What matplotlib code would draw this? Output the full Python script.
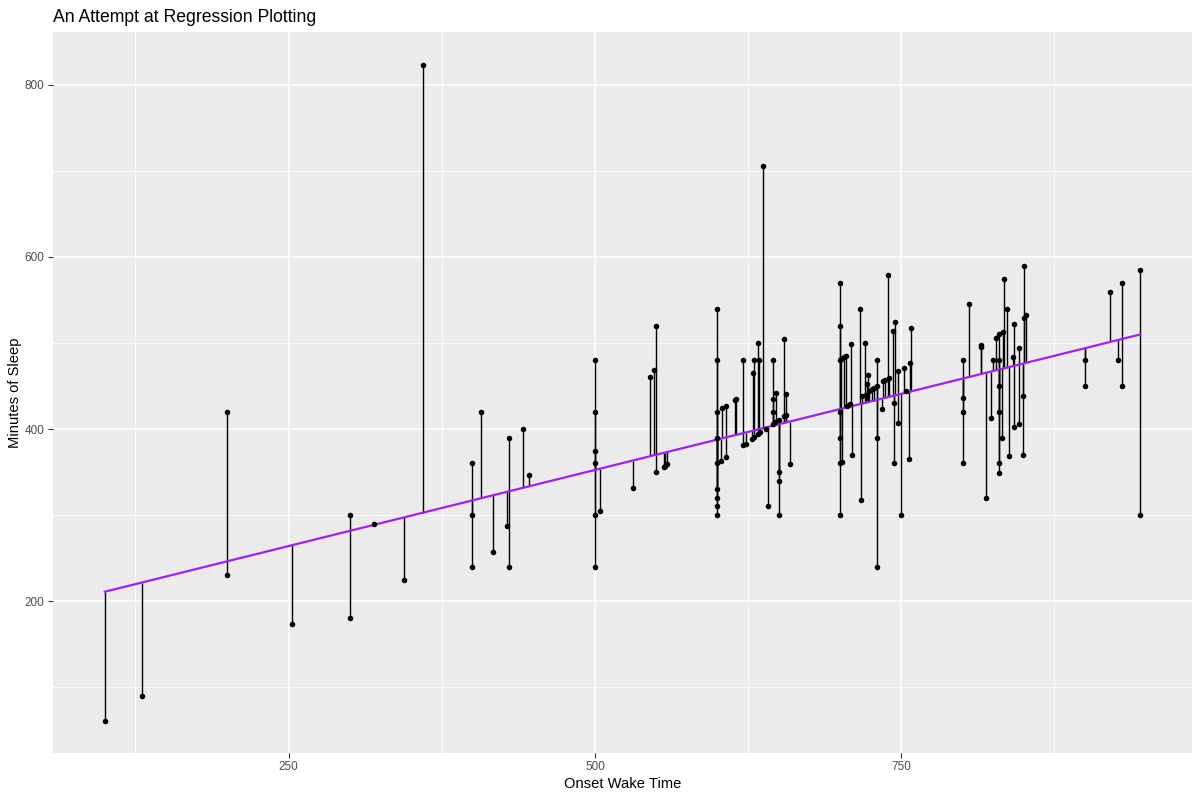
import numpy as np
import matplotlib
matplotlib.use("Agg")
import matplotlib.pyplot as plt

plt.rcParams['font.family'] = ['Liberation Sans', 'DejaVu Sans']

# onset wake time vs minutes of sleep
wake_time = [100, 130, 200, 200, 253, 300, 300, 320, 344, 360,
             400, 400, 400, 407, 417, 428, 430, 430, 441, 446,
             500, 500, 500, 500, 500, 500, 504, 531, 545, 548,
             550, 550, 556, 557, 559,
             600, 600, 600, 600, 600, 600, 600, 600, 600, 603,
             604, 607, 607, 614, 615, 621, 621, 623, 628, 629,
             630, 630, 633, 633, 634, 635, 637, 640, 641, 645,
             645, 645, 645, 647, 648, 650, 650, 650, 650, 654,
             654, 656, 656, 659,
             700, 700, 700, 700, 700, 700, 700, 701, 702, 703,
             705, 706, 708, 709, 710, 716, 717, 718, 720, 721,
             722, 723, 724, 726, 728, 730, 730, 730, 730, 734,
             735, 737, 739, 740, 743, 744, 744, 745, 747, 747,
             750, 752, 754, 756, 757, 758,
             800, 800, 800, 800, 805, 815, 815, 819, 823, 825,
             827, 830, 830, 830, 830, 830, 830, 832, 833, 834,
             836, 838, 841, 842, 842, 846, 846, 849, 849, 850,
             850, 852, 900, 900, 920, 927, 930, 930, 945, 945]
sleep_min = [61, 90, 420, 230, 173, 300, 180, 290, 225, 823,
             360, 300, 240, 420, 257, 287, 390, 240, 400, 347,
             480, 420, 375, 360, 300, 240, 305, 331, 460, 469,
             520, 350, 356, 357, 359,
             540, 480, 420, 390, 360, 330, 320, 310, 300, 363,
             424, 427, 367, 434, 435, 480, 381, 383, 388, 465,
             480, 391, 500, 394, 480, 396, 706, 400, 310, 480,
             435, 420, 406, 408, 442, 410, 350, 340, 300, 505,
             415, 441, 416, 359,
             570, 520, 480, 420, 390, 360, 300, 481, 362, 484,
             485, 427, 429, 499, 370, 540, 317, 438, 500, 440,
             452, 463, 444, 446, 448, 480, 390, 240, 450, 423,
             456, 457, 579, 459, 514, 430, 360, 525, 467, 407,
             300, 471, 444, 365, 477, 517,
             480, 436, 420, 360, 545, 498, 495, 320, 413, 480,
             506, 510, 480, 450, 420, 360, 349, 390, 513, 574,
             540, 369, 484, 522, 402, 494, 406, 438, 370, 589,
             529, 533, 480, 450, 559, 480, 570, 450, 585, 300]

# regression coefficients as drawn in the picture
fit_intercept = 175.4
fit_slope = 0.354

x = np.array(wake_time, dtype=float)
y = np.array(sleep_min, dtype=float)
fitted = fit_intercept + fit_slope * x

fig = plt.figure(figsize=(12, 7.98), dpi=100)
ax = fig.add_axes([53 / 1200, 45 / 798, 1139 / 1200, 721 / 798])
ax.set_facecolor('#EBEBEB')
for s in ax.spines.values():
    s.set_visible(False)

ax.set_xticks([250, 500, 750])
ax.set_xticks([125, 375, 625, 875], minor=True)
ax.set_yticks([200, 400, 600, 800])
ax.set_yticks([100, 300, 500, 700], minor=True)
ax.grid(True, which='major', color='white', linewidth=1.1)
ax.grid(True, which='minor', color='white', linewidth=0.55)
ax.set_axisbelow(True)
ax.tick_params(which='major', length=3.5, width=0.8, color='#333333',
               labelcolor='#4D4D4D', labelsize=8.5, pad=2.5)
ax.tick_params(which='minor', length=0)

ax.vlines(x, y, fitted, color='black', linewidth=1.0, zorder=2)
order = np.argsort(x)
ax.plot(x[order], fitted[order], color='#A020F0', linewidth=1.6, zorder=3)
ax.scatter(x, y, s=16, color='black', zorder=4, linewidths=0)

ax.set_xlim(57.75, 987.25)
ax.set_ylim(23.3, 861.6)

ax.set_xlabel('Onset Wake Time', fontsize=10.6, labelpad=3)
ax.set_ylabel('Minutes of Sleep', fontsize=10.6, labelpad=2)
ax.set_title('An Attempt at Regression Plotting', loc='left', fontsize=12.7, pad=7)

fig.savefig('out.png', dpi=100)
